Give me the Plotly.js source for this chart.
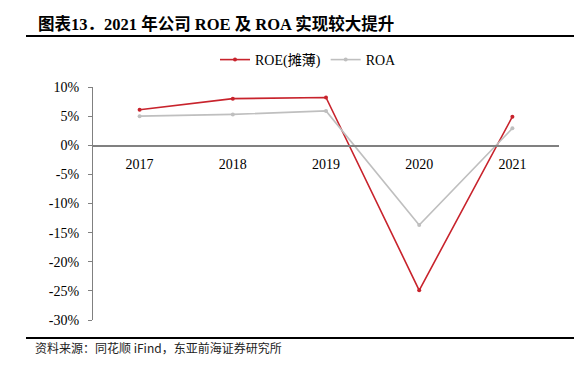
<!DOCTYPE html>
<html>
<head>
<meta charset="utf-8">
<script src="https://cdn.plot.ly/plotly-3.0.1.min.js"></script>
<style>html,body{margin:0;padding:0;background:#fff;}#chart{width:586px;height:368px;}</style>
</head>
<body>
<div id="chart"></div>
<script>
const years = ['2017', '2018', '2019', '2020', '2021'];
const roe = [6.1, 8.0, 8.2, -24.9, 4.9];
const roa = [5.0, 5.3, 5.9, -13.7, 2.9];
const yTicks = [10, 5, 0, -5, -10, -15, -20, -25, -30];
const yTickText = ['10%', '5%', '0%', '-5%', '-10%', '-15%', '-20%', '-25%', '-30%'];
const seriesNames = ['ROE(摊薄)', 'ROA'];
const titleText = '<b>图表13．2021 年公司 ROE 及 ROA 实现较大提升</b>';
const sourceText = '资料来源：同花顺 iFind，东亚前海证券研究所';

const serif = "'Liberation Serif', 'Times New Roman', 'Noto Sans CJK SC', serif";

const traces = [
  {x: years, y: roe, name: seriesNames[0], type: 'scatter', mode: 'lines+markers',
   line: {color: '#C8232C', width: 1.6}, marker: {color: '#C8232C', size: 4}},
  {x: years, y: roa, name: seriesNames[1], type: 'scatter', mode: 'lines+markers',
   line: {color: '#BFBFBF', width: 1.6}, marker: {color: '#BFBFBF', size: 4}}
];

const layout = {
  width: 586, height: 368,
  margin: {l: 93, r: 27, t: 87, b: 48},
  paper_bgcolor: '#fff', plot_bgcolor: '#fff',
  font: {family: serif, size: 14, color: '#000'},
  showlegend: true,
  legend: {orientation: 'h', x: (215 - 93) / 466, xanchor: 'left', y: 1 + (87 - 60) / 233, yanchor: 'middle',
           font: {family: serif, size: 14, color: '#000'}, itemclick: false},
  xaxis: {type: 'category', range: [-0.5, 4.5], anchor: 'free', position: 0.75,
          showline: true, linecolor: '#808080', linewidth: 1.5, ticks: '',
          showgrid: false, zeroline: false, ticklabelstandoff: 5,
          tickfont: {family: serif, size: 14, color: '#000'}},
  yaxis: {range: [-30, 10], tickvals: yTicks, ticktext: yTickText,
          showline: true, linecolor: '#808080', linewidth: 1, ticks: 'outside',
          ticklen: 4, tickcolor: '#808080', showgrid: false, zeroline: false,
          ticklabelstandoff: 6,
          tickfont: {family: serif, size: 14, color: '#000'}},
  annotations: [
    {xref: 'paper', yref: 'paper', x: -57 / 466, y: 1 + (87 - 24) / 233, xanchor: 'left', yanchor: 'middle',
     text: titleText, showarrow: false, align: 'left',
     font: {family: serif, size: 16.5, color: '#000'}},
    {xref: 'paper', yref: 'paper', x: -60 / 466, y: -(347 - 320) / 233, xanchor: 'left', yanchor: 'middle',
     text: sourceText, showarrow: false, align: 'left',
     font: {family: "'Noto Sans CJK SC', sans-serif", size: 12, color: '#222'}}
  ],
  shapes: [
    {type: 'line', xref: 'paper', yref: 'paper', x0: -67 / 466, x1: 481 / 466,
     y0: 1 + (87 - 36) / 233, y1: 1 + (87 - 36) / 233, line: {color: '#000', width: 2}},
    {type: 'line', xref: 'paper', yref: 'paper', x0: -67 / 466, x1: 481 / 466,
     y0: -(338 - 320) / 233, y1: -(338 - 320) / 233, line: {color: '#000', width: 2}}
  ]
};

Plotly.newPlot('chart', traces, layout, {displayModeBar: false, staticPlot: true});
</script>
</body>
</html>
